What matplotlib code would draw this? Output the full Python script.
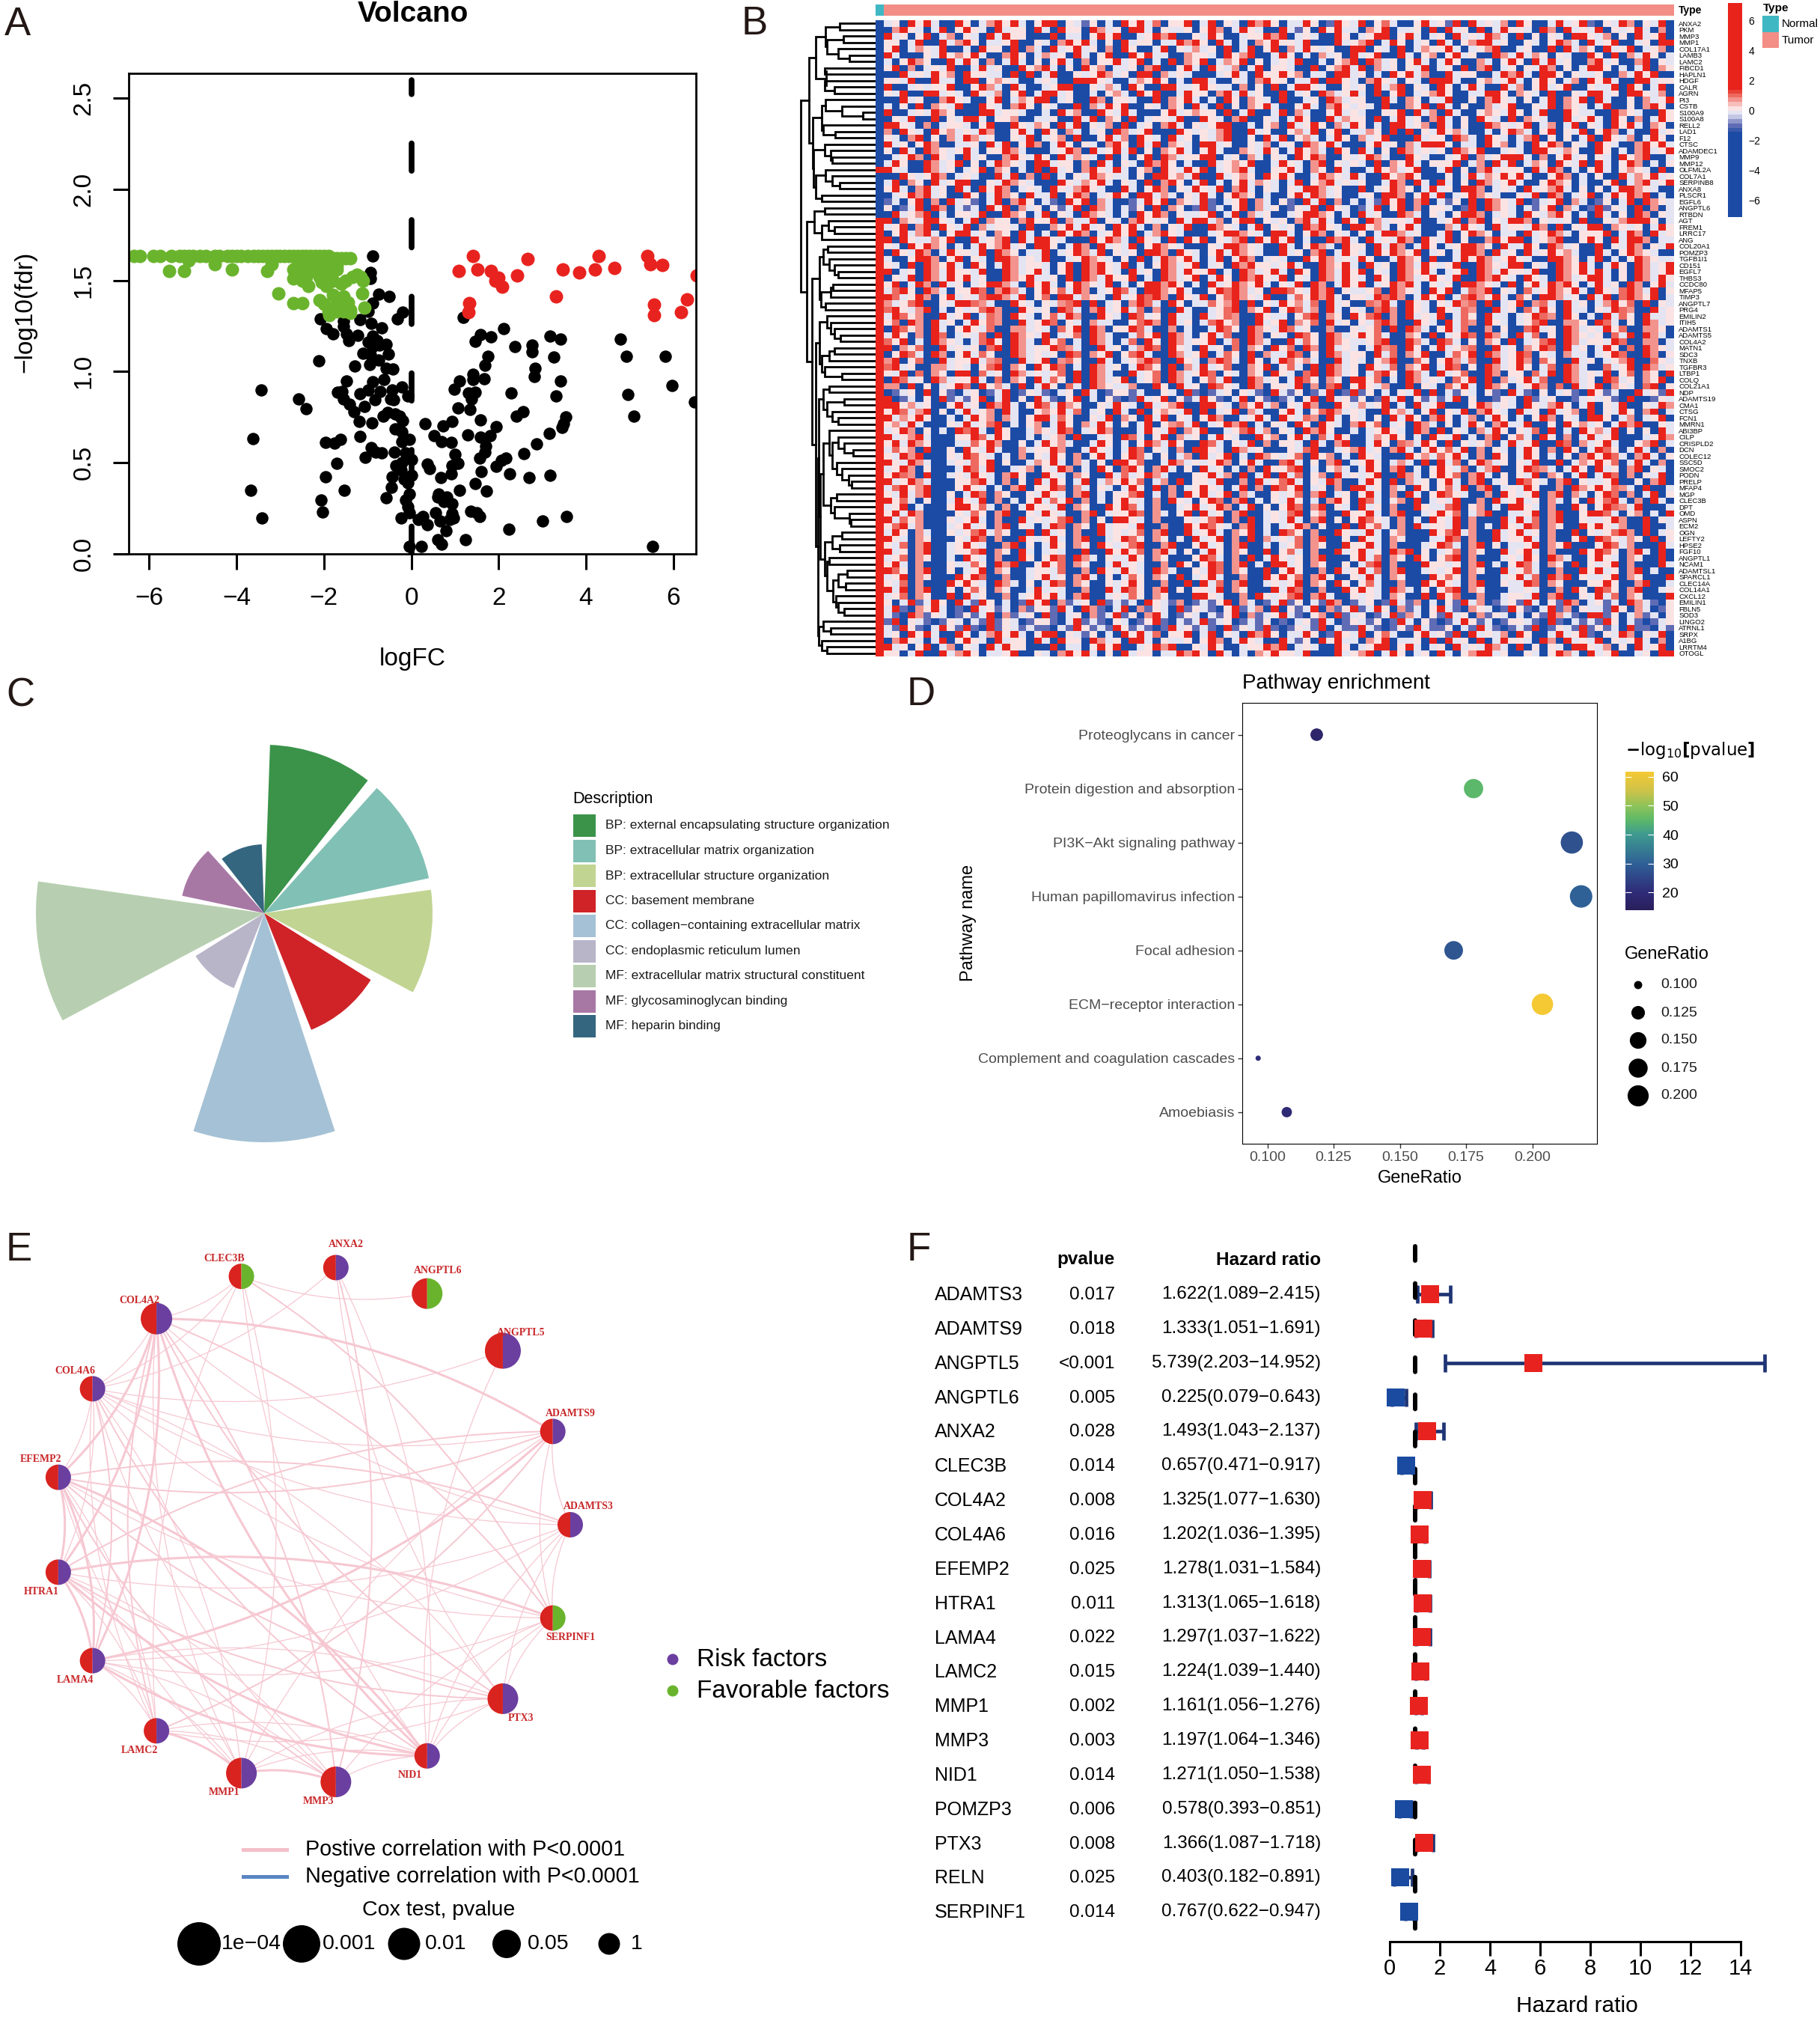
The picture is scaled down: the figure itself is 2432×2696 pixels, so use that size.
import numpy as np
import matplotlib
matplotlib.use('Agg')
import matplotlib.pyplot as plt
from matplotlib.colors import ListedColormap, BoundaryNorm, LinearSegmentedColormap
from matplotlib.patches import Wedge, Rectangle, PathPatch
from matplotlib.path import Path
from matplotlib.cm import ScalarMappable

plt.rcParams['font.family'] = ['Liberation Sans', 'DejaVu Sans']

# ---- panel A
black_x = [-0.89,-0.93,-0.93,-0.75,-0.51,-0.89,-0.19,-0.31,-0.99,-2.09,-1.18,-0.92,-0.67,-1.55,-1.55,-1.94,-1.80,-1.48,-1.23,-1.43,-0.89,-0.78,-0.99,-0.57,-0.73,-0.89,-0.52,-1.10,-0.94,-0.75,-2.12,-0.96,-1.29,-0.57,-0.42,-0.63,-1.48,-0.89,-3.43,-1.69,-1.59,-1.17,-0.99,-0.71,-0.44,-0.21,-0.07,-0.84,-0.48,-0.40,-2.58,-1.55,-1.41,-2.40,-1.07,-1.31,-0.54,-0.37,-0.65,-0.26,-1.20,-0.90,-0.19,-0.37,-0.21,-1.17,-3.63,-1.62,-1.96,-1.75,-0.21,-0.05,-0.91,-0.82,-0.67,-0.38,-0.13,-1.06,0.0,-0.21,-1.71,-0.36,-0.23,-1.96,-0.44,0.0,-0.16,-0.07,-0.46,-1.54,-3.67,-0.04,-0.57,-2.07,-0.13,-0.07,-2.04,-0.05,-0.24,-3.42,-0.05,0.23,
           1.19,2.12,3.18,3.42,1.58,1.82,1.46,2.77,2.37,2.77,3.27,1.76,1.69,2.84,1.41,2.82,1.42,1.67,1.10,3.42,0.99,1.47,2.28,1.31,3.31,1.38,1.07,1.34,2.56,2.40,3.54,1.58,0.94,0.32,0.73,1.94,3.48,3.45,3.16,1.30,0.52,1.80,1.59,0.70,0.92,2.87,1.71,1.69,2.58,1.01,2.17,1.57,2.07,1.07,0.37,0.94,1.95,0.42,1.61,0.92,2.25,3.18,0.67,2.69,1.47,1.10,1.73,0.63,0.61,0.82,0.75,0.94,0.56,1.37,1.50,1.56,0.94,0.96,3.55,0.26,0.16,0.66,0.89,3.0,0.37,2.23,0.79,1.25,0.60,0.69,5.52,4.79,4.92,5.81,5.97,4.96,5.10,6.48]
black_y = [1.635,1.545,1.51,1.425,1.41,1.375,1.325,1.29,1.33,1.29,1.285,1.265,1.24,1.277,1.246,1.237,1.206,1.206,1.2,1.17,1.194,1.17,1.16,1.15,1.147,1.135,1.095,1.1,1.09,1.064,1.057,1.04,1.03,1.017,1.012,0.957,0.95,0.945,0.898,0.886,0.89,0.88,0.898,0.89,0.898,0.915,0.867,0.844,0.85,0.844,0.848,0.85,0.822,0.796,0.81,0.78,0.775,0.768,0.756,0.756,0.727,0.72,0.732,0.685,0.668,0.645,0.633,0.626,0.611,0.607,0.614,0.626,0.583,0.56,0.555,0.56,0.555,0.531,0.519,0.502,0.495,0.483,0.46,0.424,0.424,0.429,0.412,0.389,0.365,0.348,0.348,0.329,0.306,0.294,0.294,0.258,0.23,0.227,0.197,0.197,0.04,0.043,
           1.296,1.237,1.194,1.18,1.204,1.19,1.166,1.147,1.137,1.107,1.078,1.083,1.033,1.017,0.986,0.974,0.957,0.962,0.95,0.948,0.903,0.886,0.884,0.882,0.865,0.848,0.799,0.791,0.78,0.756,0.751,0.735,0.725,0.716,0.701,0.697,0.716,0.692,0.659,0.652,0.649,0.647,0.642,0.614,0.611,0.602,0.59,0.559,0.552,0.547,0.526,0.526,0.514,0.495,0.493,0.483,0.481,0.469,0.453,0.441,0.438,0.429,0.419,0.417,0.384,0.348,0.344,0.329,0.313,0.313,0.289,0.275,0.227,0.235,0.227,0.206,0.223,0.199,0.206,0.206,0.187,0.182,0.187,0.182,0.159,0.137,0.126,0.078,0.078,0.052,0.043,1.18,1.083,1.083,0.924,0.874,0.754,0.832]
red_x = [1.41,1.08,1.52,1.83,1.99,1.93,2.09,2.42,2.66,3.47,3.85,4.20,4.29,4.65,5.40,5.47,5.75,3.32,1.33,1.31,5.56,5.56,6.17,6.32,6.53]
red_y = [1.635,1.55,1.56,1.55,1.514,1.498,1.465,1.526,1.616,1.56,1.545,1.56,1.633,1.566,1.635,1.59,1.583,1.412,1.374,1.325,1.367,1.31,1.325,1.396,1.526]
green_x = [-6.35,-6.22,-5.9,-5.75,-5.5,-5.3,-5.2,-5.1,-5.0,-4.85,-4.7,-4.5,-4.4,-4.2,-4.1,-4.0,-3.9,-3.75,-3.6,-3.5,-3.4,-3.3,-3.2,-3.1,-3.0,-2.9,-2.8,-2.7,-2.6,-2.5,-2.4,-2.3,-2.2,-2.1,-2.0,-1.9,-1.8,-1.7,-1.6,-1.5,-1.4,-5.1,-5.55,-5.2,-4.5,-4.1,-3.3,-3.2,-3.05,-2.7,-2.5,-2.7,-2.6,-2.7,-2.5,-2.4,-2.3,-2.35,-2.2,-2.1,-2.05,-2.0,-1.95,-1.85,-1.8,-1.7,-1.6,-1.5,-1.35,-1.25,-1.15,-1.1,-1.12,-1.07,-2.1,-2.0,-1.9,-1.88,-1.8,-1.8,-1.7,-1.6,-1.55,-1.45,-1.4,-1.4,-1.7,-1.55,-2.6,-2.3,-2.1,-1.9,-1.7,-2.5,-2.2]
green_y = [1.635,1.635,1.635,1.635,1.635,1.635,1.635,1.635,1.635,1.635,1.635,1.635,1.635,1.635,1.635,1.635,1.635,1.635,1.635,1.635,1.635,1.635,1.635,1.635,1.635,1.635,1.635,1.635,1.635,1.635,1.635,1.635,1.635,1.635,1.635,1.635,1.62,1.62,1.62,1.62,1.62,1.61,1.55,1.55,1.59,1.56,1.55,1.59,1.43,1.375,1.375,1.56,1.53,1.51,1.5,1.52,1.55,1.47,1.56,1.52,1.49,1.56,1.47,1.53,1.5,1.56,1.48,1.5,1.52,1.53,1.52,1.5,1.43,1.35,1.39,1.37,1.33,1.31,1.35,1.42,1.4,1.38,1.41,1.38,1.34,1.32,1.33,1.33,1.6,1.6,1.59,1.6,1.58,1.58,1.57]

# ---- panel B
heat_genes = ['ANXA2','PKM','MMP3','MMP1','COL17A1','LAMB3','LAMC2','FIBCD1','HAPLN1','HDGF','CALR','AGRN','PI3','CSTB','S100A9','S100A8','RELL2','LAD1','F12','CTSC','ADAMDEC1','MMP9','MMP12','OLFML2A','COL7A1','SERPINB8','ANXA8','PLSCR1','EGFL6','ANGPTL6','RTBDN','AGT','FREM1','LRRC17','ANG','COL20A1','POMZP3','TGFB1I1','CD151','EGFL7','THBS3','CCDC80','MFAP5','TIMP3','ANGPTL7','PRG4','EMILIN2','ITIH5','ADAMTS1','ADAMTS5','COL4A2','MATN1','SDC3','TNXB','TGFBR3','LTBP1','COLQ','COL21A1','NDP','ADAMTS19','CMA1','CTSG','FCN1','MMRN1','ABI3BP','CILP','CRISPLD2','DCN','COLEC12','SSC5D','SMOC2','PODN','PRELP','MFAP4','MGP','CLEC3B','DPT','OMD','ASPN','ECM2','OGN','LEFTY2','HPSE2','FGF10','ANGPTL1','NCAM1','ADAMTSL1','SPARCL1','CLEC14A','COL14A1','CXCL12','EMILIN1','FBLN5','SOD3','LINGO2','ATRNL1','SRPX','A1BG','LRRTM4','OTOGL']
level_value = {'a':-3.0,'b':-1.0,'c':-0.15,'d':0.15,'e':0.7,'f':1.0,'g':3.0}
normal_col = 'a'*23 + 'g' + 'a'*7 + 'g'*69
# tumour columns: estimated by eye, at about a third of the real column count
heat_rows = [
"cdagdgcaag dacegdgcad ggadcbdaca gdgcfaddga cgadcagegd accgdabgdc gadfcaadgc dbgagcdcea gdaacgcdgb adcgeadcga",
"aegdcacgad gdcagcddag cagddagecd aggcadccda dgeacgdcaa gcbdagdgcc aedgaccdag agcdagacgd dcageagcdc gadcdgcaea",
"gcdadgacea dcagcgddaa agaccadgdg aacdgegaad cgdaacddge gacdcaagda cdggadgcac dagcdcgeca gadadcaggd ceadagcdga",
"ddacgaagce gdaccdgaad caegdgcada gcddaccgeg dagcacaedg ddcgaaagcd egacgdacda gcadeggcda adcadgecag cdgaacdagg",
"dgacedcgaa cagddagaec agcdgcdaea gdaacgadce cdagacgadg aecgdcdaag gadcagaced dgcacdegaa cdaagagced agcdgacdea",
"gcaaadcgde dgcaaegdac ecdagcadga agdgccaaed dcagdegaac gdacaecdag cdgaagcade adgcdaagec gcedadcaag dagaecgdac",
"cadgedaagc gdaeacgcad adgcaeaddg cdgacagaed gacedgadac dcgaacadeg agecdadgca cgdaaecadg dagcgcdaae gcdaaegadc",
"dgaeacdcga acgcdaagde gcadagdeac cdaegaadgc agdceacgad dcaagadegc gaecdadcga cdagaegacd adcgeadacg gdacacgaed",
"aagcdcgdea gddccagaga cgaadcdgec daggaecdca aacdgcagdd gdeaccaggc dacagdgcea agcddaacge gcaggdadcc daaecgdgaa",
"ddcgaagcca ggadedcaac dcaagggdca acedgdacag gcaadcaegd daccgaggdc aegdcadcag ggcaadecdg cadgdaceag dgcaaggcdd",
"gaacdcddga adgecagcaa cdggaadcec agdaaggccd gdccaeadag acggdcaadc dagcegadca gdacgcaagc eadgcdgaad ccgagdacga",
"dcgaaggcdc agdceadgac ggcdaacade cagdgaacgd daegcgcdaa gacdagecdg cagadgacde gdaaccggda edcagaadcg gcdaggdcea",
"aagcdaaegd caadgacedg gacdaagead dcaagaedgc acagdaedca gaacdagecd daagcaedac cgaadaegdc adacgaedga gcaadaecdg",
"cadagaedcg aagdcaegda dcaagaecgd gaadcaedag cagadaedgc aadgcaegdc dcagaaedga gcadaaecdg aadcgaedca cgaadaegda",
"gaacdcgeda aaggcddcaa cagdeaagdc gcaaadgcde ddagacgaac gaecaadgcd caaddgagce agcaadedcg dacgaagdcc aagedcaagd",
"adcgaagadc ggcaddeaac cdaagcgaed agacddcgaa gdcaegaadc acgdaagced dagacgcdae gcadagdcag aedcaagcdg cagdaeacgd",
"ggdcaeacdd cadgaagdce dagcgadcea gacdaegcad cdggaacade agcdgdaecg dacaggcdea gcadaagedc dgaceacgad cagdgcaeda",
"eagdcagdec dcgeaadgca gdaecacdag ecdgaaagdc dcegaagcda adecgadgac cedagagadc gdecaacadg ecadgadcga dgeacaagcd",
"dcaegadaec gecdaadcga cdeagaadgc eagdcagcda dcegaadagc gadecacgda ecdgaaagcd dagecagdca cegadadacg agdceacgda",
"gcdadgeaac cdagcgadge acgdadcaeg dagcgaedca ggcdaadcea cdagedgcaa adgcdaecgg gdaccagdea cagdgeadca gdcaaegdgc",
"dagcagedcd gcaddgecaa acdgeagcdg cgadaedgca dgcaaedcgd acgdecagda gcadagecdc dagedgaacd caggdcedaa gdacaegcdg",
"acdgeagdca gcdaaegdcg dagcedcaga cadgagecdd ggacdaecad cagdgeaadc dgecaagdca acdgaecdgg gcaeadgcda dcagdegaac",
"cgdaagecdg adacgedcag gcddaeagca dcagegdaca agcdedgaac gdcaegadcd cagaedgcad ddgaceagcg acedagdcga gcadgeacad",
"gdcaagecda cdgaedacag agcdaegdcg cadeagdcgd gacdegcaad dgcaedagca acgdecdgaa cgadaegcdd dagcgeacad gcadedcaga",
"aagdcdgeac dcaagcgaea gacadcgedc cadaggdecg aagcdedagd gdaacgedcg caagdegdaa adacgcedgd gcaadgeaca daagcedgcd",
"cgaedagcdg gaadcgedca aagdcedgca dcagaegdac gacadgcedc acgadegcdc daacgeagca gcadagecdg caadgedaca adgacegcdg",
"dgcaegcdag cagdgeacdc agdcegdcaa gcadgeadcg dcgaegcadc adcggecdaa gacdgedacg cdaggeacdc agcdegcada dacggedcaa",
"acdgegcdaa gdacgedagc cgadgeacdg daggcecadc gcadgedaca adgcgecdaa cdaggeadgc gacdgedcaa dcgageacdg acgdgegaca",
"bcadgaeagc dbacgaegda cbagdgaeca abcgdgaedc gbacdgaeca dbagcgaeac acbgdgaega cbdagagedc gabcdgaeca bdacgagedc",
"dabcgageac bcagdgaecd adbcgageca cbdagaedab gbcadgaecd abdcgagdca bcgadgaead dcabgagedc acbdgaecab gbdcagaeac",
"agcdegacad dcgaagedac gadcagedca cagdgeadcc dgacgaecda acdggedaca gcdaagecad cadggeacdc agdcegdaca gcadageadc",
"gaedcggdca cgaeddaegd dgaeccgadc aegdcdagcg gceadggadc daegcgcagd agecddcgaa cdgaegadcg geadccdaga adcegggdac",
"cdgaegagdc gaecddcaga aedgcgcdag dgcaeadcga agedcacgad cdagegdcag gdecadgcaa aecgdcagcd dcgeagadcg gaedcdacgd",
"adgcegcadg gcdaedagca cagdgeacdg dgacegdcaa acdggedcag gcadgeadca dacggecdaa cgadgedacc agcdgecadd dgacgeagcd",
"gagdccedga agcdegagcg gdcaaagdge cagdcagagd gadcegagdg dgacaagegc agcdcgeagd cgadaaegdg gacdegaadg dagcggeacc",
"dcagdgedac acgdegcdag gdacgeagcd cgadgedcaa adcggedcaa gcadgecagd dagcgeacgd acdggedagc cgdagecdaa gadcgeadcg",
"agdcgeacgd dcgagedacc gacdgecgad cdaggeagdc adgcgedcaa gcdaegacgd cagdgedgac dacggeagcd agcdgdecaa gcadgedcaa",
"caadggeadg adcaggecdc gaacdgedca dagacgedgc acgadgeacd caagdgecdc gdaacgedag aacgdgecdg dcaaggedac gacadgedcc",
"dcagagedgc agdacgecdd cadgagegdc gacadgecdg acdagegddc dgcaagedgc agcdagecgd cdgaagedcg gadcagedgc acgdagecdg",
"gacdagecgd dcgaagecdg cadgagegdc agcdagecgd dgacagecdg cagdagecgd gadcagedgc acdgagecgd dcgaagedgc gcadagecdg",
"adcgagecgd gcdaagedgc cdagagecgd dgacagecdg acgdagegdc gadcagecgd cagdagecdg dcgaagegdc agdcagecdg gcadagecgd",
"dgacgeagcd acdggecagd gcadgedcga cadggegdac agcdgedgca dcgageacgd gacdgegcad cdaggedcag adgcgegdac gcdageadgc",
"cfgdagecad dgfaegecad gdfcgeacdg fcaggedgca adgfgecdag gfdcgegadc cdfagedcag dgacfegadc afcdgedgca gdcfgecgad",
"gfcdgeadgc dcfggecgad faggcedcag cdgfgeagdc gadfgedcga acfdgegcad dcgfgeacgd gacfgedgca fdaggecdag cgafgedgac",
"ecdfgaadcg gfecaagdca dcefgagacd aegfcagdac cfdegagadc gdecfagcda afegcagdca dcgefagacd gaefcagcda cegdfagadc",
"fgdcegacad cdfgeaagdc dagfcaegcd gcfaeaagca acdfgaedga dgfceagcad cafgeagdca gdcfeaagcd afcgdagcca dcgfeaagcd",
"cgfdeaagcd gacfeagdca dfcgeaagdc agfcdagcca gcdfeaagdc cadfgaedag dfgaeagcdc gacfdagcca cdgfeagdac agcfdagccd",
"dfageagcda cgdfeaagcd gfadcaecca adfgeagcda cfgdeaagcd gaedfagcda dcfgeaagdc agcfeagdca cdfgaaeeda gfcadagecd",
"agfdeagcad gdcfaaeecd cafdgagead dgfcaaeaca acgfdagedc gfcdaaeaad cdfagageca dgcfaaeada afgcdagecd cgdfaaeeda",
"cgdaeagfac dcfagagedc gacdfageca acfdgageca dgcfaagead cagfdagecd gdfcaaedag acdgfageca gcfadagedc dafcgageca",
"fdgacagedc acfgdageca gdfacageca cfagdagecd dgacfageca agcfdagedc cdfgaageca gfcadaedag acdfgagecd dcgfaaeeac",
"gaedfaagcd cdafgagecd dgfecaagcd acegfagdca gcdafaedag dfageagcdc acgefagdac gcdefaagcd aedgfagcda cgdafagedc",
"adgfcagead gcfdaagecd cdagfaedga dfgcaagecd gacfdagaec cgfadagecd dagcfaedga acfdgagecd gfadcaecca cdgfaagead",
"egadfaagcd dgcefaagcd gaefdaagca cdegfaagdc aegfcagdac gfdecaagcd cadegaafda dgecfaagcd geafdaagcd acdegaafdc",
"fgcdaaeecd cadfgaedag dgfacagecd acgfdagaec gcdfaaedga dfcagagecd agdcfaedga cgfadagecd gdacfageca afcdgagecd",
"dcgafaedag gafcdagecd cdfagageca agcdfagecd gfadcaedag dcafgagecd acfgdageca gcdfaagead dafcgagecd cgadfaedag",
"agfcdagecd dgcafaedag cfdagagecd gacdfageca dfcgaagecd acgfdaedag gdfacagecd cafdgagaec dgcfaagecd agfcdaedga",
"eeagadacdg fagdecagac gdafcagedc ceaagdagcd agfdcagead dcgaeafgad gdceaagadc afdgcageda cdgeafagcd gaedcafgad",
"abcdagadba cdabcgabdc bacdagcabd dbcaadcagb abcdadcbag cbdabcgabg bdacadcgag acbdcadbag cbadacdbag dbcaagcdbg",
"gabcadagbc bdgacgadag cbadgacadb abgcdgadbc gdbacgadba bcadgagcdb dabgcgadbc bcgadaabdc agbcdaabcd cdbagaabdc",
"ggdecdaadg cdagegcadg fcgedaadcg dcagcdegaa ggdcafdgce adcgeaagdc ecdgacagcd gaaadgecdc agdcegdacg adcgaadcge",
"dgfcegadac gcdeagcaad edgcfacdag cagadedcga gacdgaecaa dgcadfgecd caagdecadg adcgaegdca gcdagcdeag adcgdaegac",
"gcedgdaaca cgdeaecadg gcfdaadcga edagcgadca dgeaacdgca gdcfeagcad cadagcgdae gdaceacgda cadgeadcag gdaceacdga",
"decgcaaadc gcdfgacade acgdaecgda dacgadefcg acdgegacad cagdagdcae gdfacdagec adacgdaegc cgaadagdec dacgegaadc",
"cdgeadacag fgcagdaace dcgfacdgea aacgdcgaed gaacdfgcea dcagegdaac acdgdcagea gadcaecgda dcfagacagd ecgadadagc",
"gcdegcaaad dgfcgdaaca cdeagaacda gfcadgaecd acgdcaagde adgcafcgda acedgdacag dcgacaegad fcagdaeacg cdgaaacdge",
"dgcgedaaac cfdgeaadac gdecaacgda cadgecgdaa gfcadcgaea ddcagcaega acgdafecgd agadcdeacg cdgaagfaec dgcaadegac",
"cfdeagaada gdcgcaaecd dgeaacgdca cgfadcaeag gdcagecdaa adcfgaacde gcdaegcadg dfcgaeadca cgdaeagdac gfdacgcaea",
"dcgegaaadc gfdcacaead cgdaeadgca dgfcadacea gcdgacaged cdfagdeaca gdcaaagdec fdgcaeagda cgdacadaeg dgfcaegcad",
"gdcgecaacd cfdgadaace dgcaecadag gdfaacgecd cdgeadgcaa fgcadaegac dgdacecaga gcfadgecda dcgaagaced gdfacgcaea",
"cdgeadaaac gfcgaacdea dcgeacagda fgdaegcada gcdacaeagd dfgacadeca cgdaegacad gdcfacegaa dgfecacgda gcdaegadca",
"dgfeagaacd cgdcaegdaa gdcaedaagc fcdgecaaad dgceagacga gcfadeagcd cdgaagecad gdfaegcada dcgaedacga cgfaeadcga",
"gcdgecaaad dfgcaeadag cgdacgaced gdfaceagad dcgaaeagcd fgcadcgeaa cgdagaecda dgcaegacda gfdcaegadc cdgaadaega",
"cfgdegaaad gdcacaegad dgfaecadca cgdagaeacd gdcacgaeag fdgacdaeag gcdaecagda dfcgaegacd cgdaaeaged gdfecagaac",
"dcgcegaada cgfaedaadc gdcaegacad dfgacaeagd gcdgaecaad cdfaegacda dgcaeagcad gfdcaaeagd cdgaegaeca dgfaeacgad",
"gdfcadaacg dcgaeacadg cfdgaeacad gdcaeagdca dgfaegacad cgdacaegda gfcadeagac dcgaaeagcd gcdaecadag dfgcaeagca",
"cdgacaaadg gdfcaeacgd dcgaedaagd gfcaeaacdg cdgeacgada dgfaegadca gcdaeaagdc cfgadeacag gdcaeaagda dgfecgaaac",
"dgcgeaaaad cfdaegaadc gdcaaegacd dgfaecadga gcdaegaacd cfgadeaagd dgcaegaacd gdfacegaac cdgaegaadg gfcadeacag",
"gcfdeaaadc dgcaeaagcd cdfgaeadag gdcaeaaadc dfgaeagacd cgcaegadad gfdcaeacag dcgaeaaagc gcfaegaadc cdgeaagadc",
"dfgceaaacd gcdaegadca cgfaedagcd dcgaaeaagd gfdcaegaca cdgeadaaga gdfcaeagcd dcgaeacagd cgfaedaagd gdceaagaac",
"cgdaecaadc dfgcedaaga gcdaeaagcd cdfaegaagc dgcaedgaca gfdaeaagdc cgcadeaaag dfgceaagcd gcdaeaagad cdfgeagacd",
"gdcaedaaad cgfaeaagdc dgcaegaacd gfdaedacag cdgaeagaec dcfaegaada gdcaedaaac cgfaeaagcd dgcaeaadga gfdcedagad",
"dcfaegaacd gdcaaegada cgdaedagdc dfgaaegaad gcdaegaaca cdfaedaagd dgcaeaaacd gfcaegadac cdgaedgaaa dgfceaaagc",
"gcdaegaacd dfgaedagca cdcaagaagd gdfaegcada cgdaedaaga dfcaeaagcd gcdagegada cdfaedaagc dgcaeaaagd gfdaegcaga",
"cdfaedaaca gdcaeaagda dgfagecadc cgdaedaaad gfcaeagacg dcdaegaaad gcfaedagda dfgaeaaacd cgdagecaad gdcaedaaga",
"dgcaeaaadc cfdagegaad gdfaedaacg cdcaaeagda dgfaegacag gcdaedaada cfgaeaaagd dcdaegacad gfcaedagad cdgaeaaagc",
"gfdaegaada cdgaedaacd dcfaaeagdc gdcagecaad cgfaedaaga dgdaaeagcd gcfaegaacd cdgaedaagc dfcaaeaagd gcdaegacaa",
"cdgaedaaag dgfaaeaacd gcdaegcada cfdaedagac dgcaaeaagd gdfaegcaad cgcaedaaag dfdaeaaacd gcfagegadc cdgaedaaag",
"dcfaeaaagd gdcagecada cgfaedaadc dgdaaeaaga gcfaegaacd cdgaedagda dfcaaeaagd gdcaegaadc cgfaedaaad dgdaaegaac",
"gcgaegaada dfdaedaacg cdcaaeaagc gfdaegadad dcgaedaaag cgfaaeaagd gdcagecada dfgaedaaac cdcaaeagda gfdaegaacd",
"cdfaedaaga gcdaaeacdg dgcaegaacd cfdaedaaag gdcaaeagdc dfgaegcaad cdcaedaaga gdfaaeaacd dcgaegaadc gcfaedaaag",
"dacgbcgdag cbgdacabgd gaebcdagbc bcagdcbeab cbdgaecabc gbdacbgeab cdabgcbeac adbgceabcd bgcadbgeac dbcagecbad",
"cgbaedgcab agcdbcaebd dbgcagebac gaebdcagbd cbadgbceag adbcgaebdg bcgdaebcad gcbaedcabg dbacgbeadc cbgdaecabd",
"cbagebdcab dbcgaebcda gbacdaebcg bdaegcabdc acbdgaebcd gcbadeagbc dabcgbecad bgcdaebdca cadbgecbag gbdacebcad",
"bgadcbabdc acbgbdcabd dbacgbcbad cabdgbacbc gbcdabcbda bacdbgcabd cbdabgcadb abcgdbcabd dcbagbacbc bgdacbabcd",
"cbgdbacgdb gbagbdcbcb bacbgdbcbg dbcbabgcdb cbagbdcbgb abdcbgacbb gcbabdbgcb bdacbgcbab cbgabdcbgb dbcagbbacb",
]
heat_rows = (heat_rows + heat_rows[:4])[:100]

# ---- panel C
rose_names = ['BP: external encapsulating structure organization','BP: extracellular matrix organization','BP: extracellular structure organization','CC: basement membrane','CC: collagen\u2212containing extracellular matrix','CC: endoplasmic reticulum lumen','MF: extracellular matrix structural constituent','MF: glycosaminoglycan binding','MF: heparin binding']
rose_radius = [225, 225, 225, 168, 306, 108, 305, 112, 92]
rose_colors = ['#3a9349','#81c0b5','#c1d492','#cf2327','#a5c1d5','#b8b5c9','#b7cfb0','#a878a5','#35667f']

# ---- panel D
path_names = ['Proteoglycans in cancer','Protein digestion and absorption','PI3K\u2212Akt signaling pathway','Human papillomavirus infection','Focal adhesion','ECM\u2212receptor interaction','Complement and coagulation cascades','Amoebiasis']
path_ratio = [0.1186, 0.1778, 0.2149, 0.2184, 0.1703, 0.2038, 0.0965, 0.1073]
path_logp = [17, 45, 27, 30, 28, 61.5, 20, 19]
ratio_legend = [0.100, 0.125, 0.150, 0.175, 0.200]

# ---- panel E
node_genes = ['ADAMTS3','SERPINF1','PTX3','NID1','MMP3','MMP1','LAMC2','LAMA4','HTRA1','EFEMP2','COL4A6','COL4A2','CLEC3B','ANXA2','ANGPTL6','ANGPTL5','ADAMTS9']
node_diam = [34, 34, 41, 34, 41, 41, 34, 34, 34, 34, 34, 42, 34, 34, 41, 48, 34]
favorable = ['SERPINF1', 'CLEC3B', 'ANGPTL6']
edges = [('COL4A2','CLEC3B',1),('COL4A2','COL4A6',1),('COL4A2','EFEMP2',3),('COL4A2','HTRA1',3),('COL4A2','LAMA4',3),('COL4A2','LAMC2',2),('COL4A2','MMP1',1),('COL4A2','MMP3',2),('COL4A2','NID1',3),('COL4A2','PTX3',2),('COL4A2','SERPINF1',2),('COL4A2','ADAMTS3',1),('COL4A2','ADAMTS9',3),
         ('COL4A6','EFEMP2',1),('COL4A6','HTRA1',1),('COL4A6','LAMA4',2),('COL4A6','LAMC2',1),('COL4A6','MMP1',1),('COL4A6','MMP3',1),('COL4A6','NID1',2),('COL4A6','PTX3',1),('COL4A6','ADAMTS9',1),('COL4A6','ADAMTS3',1),('COL4A6','SERPINF1',1),('COL4A6','ANGPTL5',1),('COL4A6','CLEC3B',1),
         ('EFEMP2','HTRA1',3),('EFEMP2','LAMA4',3),('EFEMP2','LAMC2',1),('EFEMP2','MMP3',2),('EFEMP2','MMP1',1),('EFEMP2','NID1',3),('EFEMP2','PTX3',2),('EFEMP2','SERPINF1',1),('EFEMP2','ADAMTS3',2),('EFEMP2','ADAMTS9',2),
         ('HTRA1','LAMA4',3),('HTRA1','LAMC2',1),('HTRA1','MMP1',1),('HTRA1','MMP3',1),('HTRA1','NID1',3),('HTRA1','PTX3',2),('HTRA1','SERPINF1',3),('HTRA1','ADAMTS3',1),('HTRA1','ADAMTS9',2),
         ('LAMA4','LAMC2',1),('LAMA4','MMP1',1),('LAMA4','MMP3',1),('LAMA4','NID1',3),('LAMA4','PTX3',1),('LAMA4','SERPINF1',1),('LAMA4','ADAMTS3',1),('LAMA4','ADAMTS9',3),
         ('LAMC2','MMP1',3),('LAMC2','MMP3',1),('LAMC2','NID1',1),('LAMC2','PTX3',1),('LAMC2','ADAMTS9',2),('LAMC2','CLEC3B',1),
         ('MMP1','MMP3',3),('MMP1','NID1',1),('MMP1','PTX3',1),('MMP1','ADAMTS9',1),('MMP1','CLEC3B',1),
         ('MMP3','NID1',1),('MMP3','ANXA2',2),('MMP3','SERPINF1',1),('NID1','PTX3',1),('NID1','SERPINF1',1),('NID1','ADAMTS3',1),('NID1','ANXA2',1),('NID1','ANGPTL5',1),('NID1','CLEC3B',1),
         ('PTX3','SERPINF1',1),('PTX3','ADAMTS3',1),('PTX3','ANXA2',1),('SERPINF1','ADAMTS3',1),('SERPINF1','ADAMTS9',1),('SERPINF1','CLEC3B',2),('ADAMTS3','ADAMTS9',1),('CLEC3B','ANGPTL6',1),('ANXA2','COL4A6',1)]
cox_labels = ['1e\u221204', '0.001', '0.01', '0.05', '1']
cox_diam = [58, 50, 43, 38, 29]

# ---- panel F
hr_genes = ['ADAMTS3','ADAMTS9','ANGPTL5','ANGPTL6','ANXA2','CLEC3B','COL4A2','COL4A6','EFEMP2','HTRA1','LAMA4','LAMC2','MMP1','MMP3','NID1','POMZP3','PTX3','RELN','SERPINF1']
hr_p = ['0.017','0.018','<0.001','0.005','0.028','0.014','0.008','0.016','0.025','0.011','0.022','0.015','0.002','0.003','0.014','0.006','0.008','0.025','0.014']
hr_mid = [1.622,1.333,5.739,0.225,1.493,0.657,1.325,1.202,1.278,1.313,1.297,1.224,1.161,1.197,1.271,0.578,1.366,0.403,0.767]
hr_low = [1.089,1.051,2.203,0.079,1.043,0.471,1.077,1.036,1.031,1.065,1.037,1.039,1.056,1.064,1.050,0.393,1.087,0.182,0.622]
hr_high = [2.415,1.691,14.952,0.643,2.137,0.917,1.630,1.395,1.584,1.618,1.622,1.440,1.276,1.346,1.538,0.851,1.718,0.891,0.947]

W, H = 2432, 2696
fig = plt.figure(figsize=(W/100, H/100), dpi=100, facecolor='white')

def box(l, r, t, b, **kw):
    return fig.add_axes([l/W, 1-b/H, (r-l)/W, (b-t)/H], **kw)

# overlay in pixels for legends, panel letters and loose text
ov = box(0, W, 0, H)
ov.set_xlim(0, W)
ov.set_ylim(H, 0)
ov.axis('off')
ov.set_zorder(5)
ov.patch.set_alpha(0)

def area_size(d):
    return (d*0.72)**2

for letter, x, y in [('A',6,47),('B',991,46),('C',8,944),('D',1212,942),('E',8,1684),('F',1212,1684)]:
    ov.text(x, y, letter, fontsize=38, va='baseline', ha='left', color='#231815')

# ---- A volcano
ax = box(172, 930, 98, 740)
ax.scatter(black_x, black_y, s=area_size(16.5), c='black', linewidths=0)
ax.scatter(red_x, red_y, s=area_size(18), c='#e8231f', linewidths=0)
ax.scatter(green_x, green_y, s=area_size(18), c='#6ab42d', linewidths=0)
ax.plot([0, 0], [0, 2.6], color='black', lw=5.5, linestyle=(0, (4.8, 8.6)), dash_capstyle='round')
ax.set_xlim(-6.47, 6.52)
ax.set_ylim(0, 2.635)
ax.set_xticks([-6,-4,-2,0,2,4,6])
ax.set_xticklabels(['\u22126','\u22124','\u22122','0','2','4','6'], fontsize=24)
ax.set_yticks([0,0.5,1,1.5,2,2.5])
ax.set_yticklabels(['0.0','0.5','1.0','1.5','2.0','2.5'], fontsize=24, rotation=90, va='center')
ax.tick_params(length=15, width=2.2, pad=17)
for s in ax.spines.values():
    s.set_linewidth(2)
ov.text(552, 19, 'Volcano', fontsize=28, fontweight='bold', ha='center', va='center')
ov.text(551, 880, 'logFC', fontsize=24, ha='center', va='center')
ov.text(34, 417, '\u2212log10(fdr)', fontsize=24, ha='center', va='center', rotation=90)

# ---- B heatmap
bounds = [-7.1,-1.4,-1.15,-.85,-.57,-.28,0,.27,.55,.85,1.1,1.35,7.15]
band_colors = ['#1c4ba6','#3858aa','#5f6cb5','#8f97cc','#c4c7e4','#e4e4f2','#fbe3e3','#f7bdba','#f3938d','#ee6a60','#ea4136','#e8231c']
heat_cmap = ListedColormap(band_colors)
heat_norm = BoundaryNorm(bounds, heat_cmap.N)
ncol = 100
vals = []
for i, row in enumerate(heat_rows):
    row = row.replace(' ', '').ljust(ncol, 'd')[:ncol]
    vals.append([level_value[c] for c in normal_col[i] + row])
vals = np.array(vals)
x_edges = np.r_[0, 11, 11 + np.arange(1, ncol+1)*(1056/ncol)]
y_edges = np.arange(len(heat_genes)+1)

ax = box(1170, 2237, 27, 877)
ax.pcolormesh(x_edges, y_edges, vals, cmap=heat_cmap, norm=heat_norm)
ax.set_xlim(0, 1067)
ax.set_ylim(100, 0)
ax.set_xticks([])
ax.yaxis.tick_right()
ax.set_yticks(np.arange(100)+0.5)
ax.set_yticklabels(heat_genes, fontsize=6.8)
ax.tick_params(length=0, pad=4.5)
for s in ax.spines.values():
    s.set_visible(False)

ax = box(1170, 2237, 6, 21)
ax.pcolormesh([0, 11, 1067], [0, 1], [[0, 1]], cmap=ListedColormap(['#3fb8c4', '#f28e86']))
ax.axis('off')
ov.text(2243, 14, 'Type', fontsize=10, fontweight='bold', va='center')

cax = box(2309, 2328, 4, 290)
cb = fig.colorbar(ScalarMappable(norm=heat_norm, cmap=heat_cmap), cax=cax, spacing='proportional', ticks=[-6,-4,-2,0,2,4,6])
cb.outline.set_visible(False)
cax.minorticks_off()
cax.tick_params(length=0, labelsize=10, pad=6)
ov.text(2356, 11, 'Type', fontsize=11, fontweight='bold', va='center')
ov.add_patch(Rectangle((2355, 21), 22, 21.5, color='#3fb8c4', lw=0))
ov.add_patch(Rectangle((2355, 42.5), 22, 21.5, color='#f28e86', lw=0))
ov.text(2381, 32, 'Normal', fontsize=11, va='center')
ov.text(2381, 54, 'Tumor', fontsize=11, va='center')

# dendrogram, heights are pixels left of the heatmap, 0 is a leaf
tree_a = (67,(48,0,0),(65,(43,0,0),(50,0,(35,0,0))))
tree_b = (66,(68,0,0),(68,0,(55,0,0)))
tree_cd = (72,(67,0,(45,0,(17,0,0))),(70,0,(54,0,0)))
tree_ef = (83,(68,0,(60,0,(58,0,0))),(80,(67,0,(58,0,(48,0,0))),(72,0,0)))
tree_top = (89,(80,tree_a,tree_b),(84,tree_cd,tree_ef))
tree_g = (82,(68,0,0),(72,(63,0,(55,0,0)),0))
tree_35 = (75,(70,(64,0,0),(62,0,(55,0,(50,0,0)))),(73,(60,(57,0,0),0),(67,0,0)))
tree_46 = (75,(65,0,(60,0,(55,0,(47,0,0)))),(72,(62,(55,0,0),0),(68,0,(45,0,0))))
tree_a57 = (70,(62,0,0),(65,(42,0,0),(58,0,(50,0,0))))
tree_b1 = (62,0,(58,(50,0,(42,0,(30,0,0))),(52,0,(45,0,(36,0,(32,0,0))))))
tree_b2 = (60,(52,0,0),(55,0,(35,0,(33,0,0))))
tree_b3 = (58,(45,0,0),(48,0,0))
tree_b4 = (65,(62,0,0),(57,(50,(38,0,0),(40,0,0)),(53,0,(50,0,(42,0,0)))))
tree_57 = (76,tree_a57,(74,(70,tree_b1,tree_b2),(68,tree_b3,tree_b4)))
tree_94 = (76,(70,0,(60,0,0)),(72,0,(65,0,0)))
tree_root = (100,tree_top,(92,tree_g,(85,tree_35,(80,tree_46,(77,tree_57,tree_94)))))

ax = box(1060, 1170, 27, 877)
ax.set_xlim(110, 0)
ax.set_ylim(100, 0)
ax.axis('off')
leaf_count = [0]
def draw_tree(node):
    if node == 0:
        leaf_count[0] += 1
        return 0, leaf_count[0] - 0.5
    h, a, b = node
    ha, ya = draw_tree(a)
    hb, yb = draw_tree(b)
    ax.plot([ha, h, h, hb], [ya, ya, yb, yb], color='black', lw=2, solid_joinstyle='miter')
    return h, (ya + yb)/2
draw_tree(tree_root)

# ---- C rose
ax = box(23, 683, 890, 1550, projection='polar')
ax.set_theta_zero_location('N')
ax.set_theta_direction(-1)
ax.bar(np.deg2rad(20 + 40*np.arange(9)), rose_radius, width=np.deg2rad(36), color=rose_colors, linewidth=0)
ax.set_ylim(0, 330)
ax.axis('off')
ov.text(765, 1067, 'Description', fontsize=15.5, va='center')
for i, name in enumerate(rose_names):
    yc = 1103 + 33.5*i
    ov.add_patch(Rectangle((766, yc-15), 30, 30, color=rose_colors[i], lw=0))
    ov.text(809, yc, name, fontsize=12.5, va='center', color='#1a1a1a')

# ---- D dots
def ratio_diam(x):
    return 7 + np.sqrt((np.asarray(x) - 0.0965)/0.1219)*23

logp_cmap = LinearSegmentedColormap.from_list('logp', [(0,'#2a1f5c'),(0.13,'#2f2c78'),(0.33,'#2f5f96'),(0.55,'#3f9b8f'),(0.65,'#5cb86a'),(0.75,'#8cc45a'),(0.87,'#cfc34a'),(1,'#f5c933')])
logp_norm = plt.Normalize(13.8, 61.8)

ax = box(1660, 2134, 939, 1528)
ypos = 8 - np.arange(8)
ax.scatter(path_ratio, ypos, s=area_size(ratio_diam(path_ratio)), c=path_logp, cmap=logp_cmap, norm=logp_norm, linewidths=0)
ax.set_xlim(0.0905, 0.2244)
ax.set_ylim(0.414, 8.59)
ax.set_xticks([0.1,0.125,0.15,0.175,0.2])
ax.set_xticklabels(['0.100','0.125','0.150','0.175','0.200'], fontsize=14, color='#4d4d4d')
ax.set_yticks(ypos)
ax.set_yticklabels(path_names, fontsize=14, color='#4d4d4d')
ax.tick_params(length=4, width=1, color='#333333', pad=3)
ov.text(1660, 913, 'Pathway enrichment', fontsize=20, va='center')
ov.text(1897, 1574, 'GeneRatio', fontsize=17, ha='center', va='center')
ov.text(1294, 1233, 'Pathway name', fontsize=17, rotation=90, ha='center', va='center')

cax = box(2172, 2210, 1031, 1216)
levels = np.linspace(13.8, 61.8, 200)
cax.imshow(levels[::-1].reshape(-1, 1), extent=[0, 1, 13.8, 61.8], aspect='auto', cmap=logp_cmap, norm=logp_norm)
cax.hlines([20,30,40,50,60], 0, 0.2, color='white', lw=0.8)
cax.hlines([20,30,40,50,60], 0.8, 1, color='white', lw=0.8)
cax.set_xticks([])
cax.yaxis.tick_right()
cax.set_yticks([20,30,40,50,60])
cax.tick_params(length=0, labelsize=14, pad=8)
for s in cax.spines.values():
    s.set_visible(False)
ov.text(2172, 1002, r'$\mathbf{-}\mathrm{log}_{10}\mathbf{[}\mathrm{pvalue}\mathbf{]}$', fontsize=16.5, va='center',
        math_fontfamily='dejavusans')
ov.text(2171, 1275, 'GeneRatio', fontsize=17, va='center')
ly = [1316, 1353, 1390, 1427, 1464]
ov.scatter([2189]*5, ly, s=area_size(ratio_diam(ratio_legend)), c='black', linewidths=0)
for v, y in zip(ratio_legend, ly):
    ov.text(2219, y, '%.3f' % v, fontsize=14, va='center', color='#1a1a1a')

# ---- E network, nodes sit on a circle
n = len(node_genes)
ang = np.deg2rad(360/n*np.arange(n))
nx = 417 + 345*np.cos(ang)
ny = 2037 + 345*np.sin(ang)
pos = {g: (nx[i], ny[i]) for i, g in enumerate(node_genes)}
for a, b, w in edges:
    ia, ib = node_genes.index(a), node_genes.index(b)
    xa, ya = pos[a]
    xb, yb = pos[b]
    gap = min(abs(ia-ib), n-abs(ia-ib))
    c = 0.14 if (ia + ib) % 3 else -0.14
    mx, my = (xa+xb)/2 - c*(yb-ya), (ya+yb)/2 + c*(xb-xa)
    # near neighbours bow towards the middle of the ring
    if gap <= 3:
        c1 = (mx-417)**2 + (my-2037)**2
        c2 = ((xa+xb)/2 + c*(yb-ya)-417)**2 + ((ya+yb)/2 - c*(xb-xa)-2037)**2
        if c2 < c1:
            mx, my = (xa+xb)/2 + c*(yb-ya), (ya+yb)/2 - c*(xb-xa)
    path = Path([(xa, ya), (mx, my), (xb, yb)], [Path.MOVETO, Path.CURVE3, Path.CURVE3])
    ov.add_patch(PathPatch(path, fc='none', ec='#f6c8d2', lw={1:0.9, 2:1.4, 3:2.2}[w], zorder=1))
for i, g in enumerate(node_genes):
    x, y = nx[i], ny[i]
    r = node_diam[i]/2
    right = '#6ab42d' if g in favorable else '#6b3fa0'
    ov.add_patch(Wedge((x, y), r, 90, 270, fc='#d9231f', lw=0, zorder=2))
    ov.add_patch(Wedge((x, y), r, -90, 90, fc=right, lw=0, zorder=2))
    co, si = np.cos(ang[i]), np.sin(ang[i])
    top = si < 0.1
    if co > 0.6:
        lx = x + 24
    elif top and co > 0:
        lx = x + 14
    else:
        lx = x - 23
    if top:
        ly2 = y - (31 if 0 < co < 0.6 else 24)
    else:
        ly2 = y + 26
    ov.text(lx, ly2, g, family='Liberation Serif', fontweight='bold', fontsize=10, color='#c8282a', ha='center', va='center', zorder=3)
ov.scatter([899, 899], [2217, 2259], s=area_size(15), c=['#6b3fa0', '#6ab42d'], linewidths=0)
ov.text(931, 2217, 'Risk factors', fontsize=24, va='center')
ov.text(931, 2259, 'Favorable factors', fontsize=24, va='center')
ov.plot([325, 383], [2471, 2471], color='#f4bfc9', lw=3.6)
ov.plot([325, 383], [2507, 2507], color='#5b86c4', lw=3.6)
ov.text(408, 2471, 'Postive correlation with P<0.0001', fontsize=20.7, va='center')
ov.text(408, 2507, 'Negative correlation with P<0.0001', fontsize=20.7, va='center')
ov.text(586, 2552, 'Cox test, pvalue', fontsize=20.5, ha='center', va='center')
cox_x = [266, 403, 540, 677, 814]
cox_lx = [296, 431, 568, 705, 843]
ov.scatter(cox_x, [2597]*5, s=area_size(np.array(cox_diam)), c='black', linewidths=0)
for lab, x in zip(cox_labels, cox_lx):
    ov.text(x, 2597, lab, fontsize=20.5, va='center')

# ---- F forest
hr_mid = np.array(hr_mid)
hr_low = np.array(hr_low)
hr_high = np.array(hr_high)
rows = np.arange(len(hr_genes))
ax = box(1827, 2377, 1660, 2594)
ax.patch.set_alpha(0)
ax.errorbar(hr_mid, rows, xerr=[hr_mid-hr_low, hr_high-hr_mid], fmt='none', ecolor='#1f3575', elinewidth=3.4, capsize=8.5, capthick=3.4, zorder=2)
ax.plot([1, 1], [-1.4, 18.8], color='black', lw=4.3, linestyle=(0, (3.2, 5.1)), dash_capstyle='round', zorder=3)
ax.scatter(hr_mid, rows, marker='s', s=area_size(24), c=np.where(hr_mid > 1, '#e8231f', '#1a4ba0'), linewidths=0, zorder=4)
ax.set_xlim(-0.896, 15.52)
ax.set_ylim(18.87, -1.505)
ax.set_yticks([])
ax.set_xticks(np.arange(0, 15, 2))
ax.tick_params(axis='x', length=13.5, width=2.2, labelsize=21, pad=2)
for side in ['left', 'top', 'right']:
    ax.spines[side].set_visible(False)
ax.spines['bottom'].set_linewidth(2.2)
ax.spines['bottom'].set_bounds(0, 14)
ov.text(2107, 2680, 'Hazard ratio', fontsize=21.5, ha='center', va='center')
ov.text(1490, 1682, 'pvalue', fontsize=17.5, fontweight='bold', ha='right', va='center')
ov.text(1765, 1684, 'Hazard ratio', fontsize=17.5, fontweight='bold', ha='right', va='center')
for i, g in enumerate(hr_genes):
    y = 1730 + 45.85*i
    ov.text(1249, y, g, fontsize=18, va='center')
    ov.text(1490, y, hr_p[i], fontsize=17.5, ha='right', va='center')
    txt = '%.3f(%.3f\u2212%.3f)' % (hr_mid[i], hr_low[i], hr_high[i])
    ov.text(1765, y-1, txt, fontsize=17.5, ha='right', va='center')

fig.savefig('out.png', dpi=100, facecolor='white')
